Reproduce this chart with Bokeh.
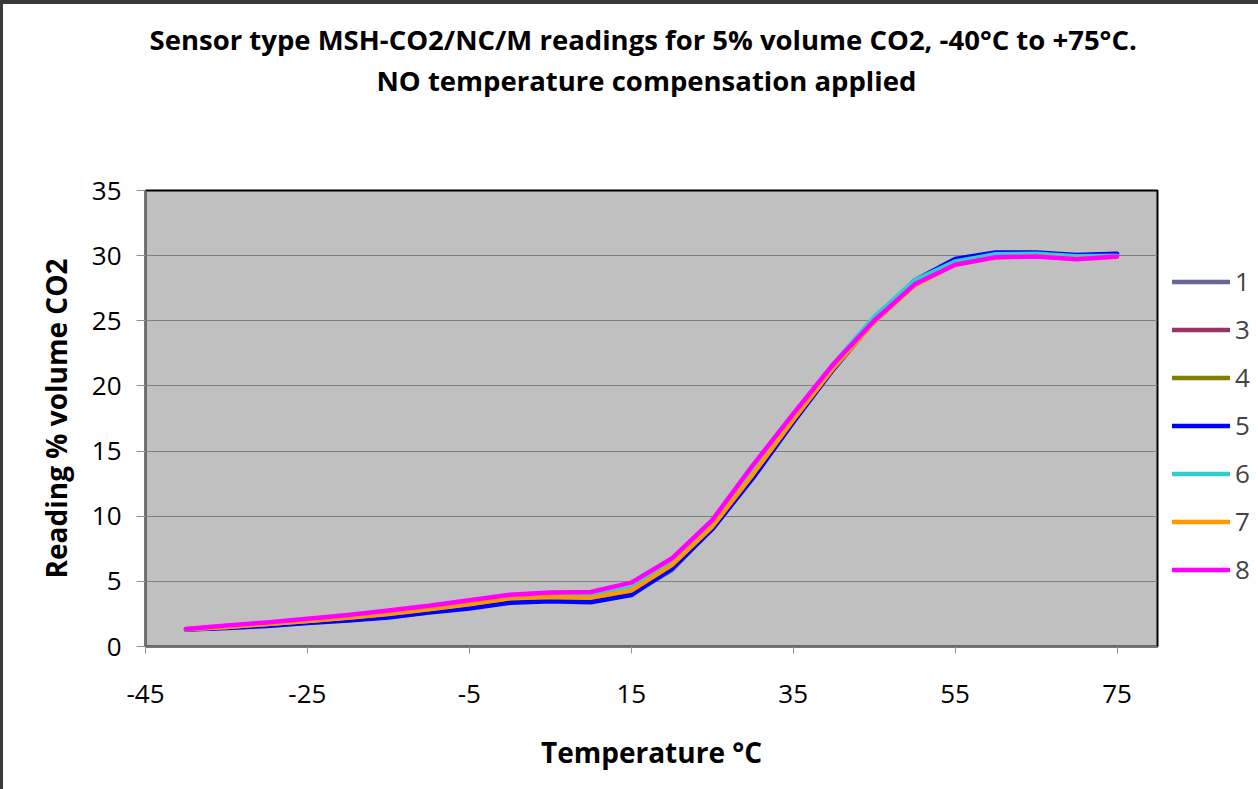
from bokeh.plotting import figure
from bokeh.models import Range1d, FixedTicker, Legend, LegendItem, Title
from bokeh.embed import file_html
from bokeh.resources import INLINE

# ---- data -------------------------------------------------------------
temperature = [-40, -35, -30, -25, -20, -15, -10, -5, 0, 5, 10, 15, 20, 25,
               30, 35, 40, 45, 50, 55, 60, 65, 70, 75]

sensor_1 = [1.31, 1.44, 1.61, 1.83, 2.04, 2.27, 2.62, 2.98, 3.42, 3.55, 3.5, 4.05,
            5.85, 9.05, 13.0, 17.3, 21.4, 25.0, 28.0, 29.6, 30.15, 30.2, 30.0, 30.1]
sensor_3 = [1.32, 1.48, 1.68, 1.9, 2.14, 2.42, 2.78, 3.15, 3.62, 3.72, 3.68, 4.22,
            6.1, 9.15, 13.1, 17.35, 21.4, 25.0, 27.9, 29.45, 30.0, 30.05, 29.85, 30.0]
sensor_4 = [1.32, 1.47, 1.66, 1.88, 2.11, 2.38, 2.74, 3.1, 3.56, 3.66, 3.6, 4.15,
            6.0, 9.1, 13.05, 17.3, 21.4, 25.0, 27.95, 29.5, 30.05, 30.1, 29.9, 30.05]
sensor_5 = [1.3, 1.42, 1.58, 1.8, 2.0, 2.22, 2.6, 2.92, 3.35, 3.47, 3.4, 3.95,
            5.95, 9.0, 12.9, 17.2, 21.3, 25.0, 28.1, 29.75, 30.25, 30.25, 30.05, 30.15]
sensor_6 = [1.33, 1.5, 1.72, 1.96, 2.22, 2.52, 2.88, 3.28, 3.74, 3.86, 3.9, 4.5,
            6.35, 9.4, 13.4, 17.6, 21.7, 25.3, 28.1, 29.55, 30.1, 30.15, 29.95, 30.0]
sensor_7 = [1.32, 1.5, 1.72, 1.95, 2.2, 2.5, 2.85, 3.25, 3.7, 3.8, 3.75, 4.3,
            6.25, 9.2, 13.2, 17.4, 21.4, 24.9, 27.7, 29.3, 29.85, 29.95, 29.75, 29.9]
sensor_8 = [1.35, 1.62, 1.85, 2.13, 2.42, 2.77, 3.12, 3.55, 3.98, 4.15, 4.18, 4.9,
            6.75, 9.7, 13.9, 17.85, 21.7, 25.0, 27.8, 29.3, 29.88, 29.93, 29.72, 29.93]

series_labels = ["1", "3", "4", "5", "6", "7", "8"]
series_values = [sensor_1, sensor_3, sensor_4, sensor_5, sensor_6, sensor_7, sensor_8]
series_colors = ["#666699", "#993366", "#808000", "#0000FF", "#33CCCC", "#FF9900", "#FF00FF"]

x_ticks = [-45, -25, -5, 15, 35, 55, 75]
x_tick_labels = ["-45", "-25", "-5", "15", "35", "55", "75"]
y_ticks = [0, 5, 10, 15, 20, 25, 30, 35]

title_line_1 = "Sensor type MSH-CO2/NC/M readings for 5% volume CO2, -40\u00b0C to +75\u00b0C."
title_line_2 = "NO temperature compensation applied"
x_label = "Temperature \u00b0C"
y_label = "Reading % volume CO2"

FONT = "Open Sans"

# ---- figure -----------------------------------------------------------
p = figure(frame_width=1012, frame_height=456, output_backend="svg",
           toolbar_location=None,
           x_range=Range1d(-45, 80), y_range=Range1d(0, 35),
           min_border_left=145, min_border_right=101,
           min_border_top=190, min_border_bottom=143)

p.background_fill_color = "#C0C0C0"
p.border_fill_alpha = 0
p.outline_line_color = "black"
p.outline_line_width = 2
p.styles = {"background-color": "white",
            "box-shadow": "inset 3px 4px 0 0 #3a3a3a"}

# titles: stacked outward from the frame (spacer, line 2, line 1)
spacer = Title(text=" ", text_font=FONT, text_font_size="1px", standoff=89)
t2 = Title(text=title_line_2, align="left", offset=231, text_font=FONT,
           text_font_size="27.5px", text_font_style="bold", text_color="black",
           standoff=0)
t1 = Title(text=title_line_1, align="left", offset=4, text_font=FONT,
           text_font_size="27.5px", text_font_style="bold", text_color="black",
           standoff=4)
p.add_layout(spacer, "above")
p.add_layout(t2, "above")
p.add_layout(t1, "above")

# axes
p.xaxis.ticker = FixedTicker(ticks=x_ticks)
p.yaxis.ticker = FixedTicker(ticks=y_ticks)
p.xaxis.major_label_overrides = dict(zip(x_ticks, x_tick_labels))
for ax in (p.xaxis[0], p.yaxis[0]):
    ax.axis_line_color = "#707070"
    ax.axis_line_width = 2
    ax.major_tick_line_color = "#909090"
    ax.major_tick_line_width = 1
    ax.major_tick_in = 0
    ax.minor_tick_line_color = None
    ax.major_label_text_font = FONT
    ax.major_label_text_font_size = "26px"
    ax.major_label_text_color = "black"
    ax.axis_label_text_font = FONT
    ax.axis_label_text_font_size = "28px"
    ax.axis_label_text_font_style = "bold"
    ax.axis_label_text_color = "black"

p.xaxis.major_tick_out = 7
p.yaxis.major_tick_out = 9
p.xaxis.major_label_standoff = 31
p.yaxis.major_label_standoff = 15
p.xaxis.axis_label = x_label
p.yaxis.axis_label = y_label
p.xaxis.axis_label_standoff = 27
p.yaxis.axis_label_standoff = 14

p.xgrid.grid_line_color = None
p.ygrid.grid_line_color = "#808080"
p.ygrid.grid_line_width = 1

# lines
items = []
for lab, vals, col in zip(series_labels, series_values, series_colors):
    r = p.line(temperature, vals, line_color=col, line_width=4.5,
               line_join="round", line_cap="round")
    items.append(LegendItem(label=lab, renderers=[r]))

legend = Legend(items=items, location=(15, 59), orientation="vertical",
                glyph_width=58, glyph_height=35, label_height=35, spacing=12,
                label_standoff=5, padding=0, margin=0,
                label_text_font=FONT, label_text_font_size="26px",
                border_line_color=None, background_fill_alpha=0)
p.add_layout(legend, "right")

open("out.html", "w").write(file_html(p, INLINE))
